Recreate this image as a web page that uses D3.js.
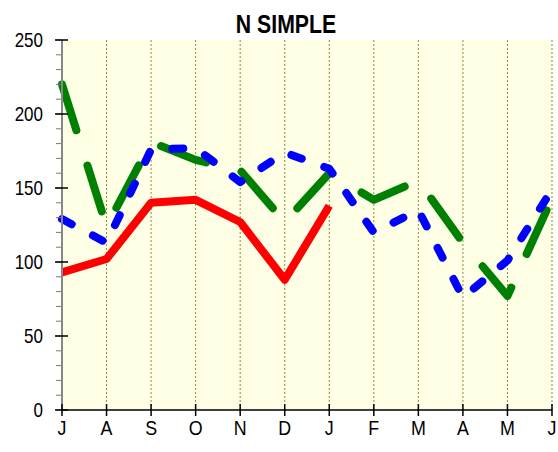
<!DOCTYPE html>
<html>
<head>
<meta charset="utf-8">
<script src="https://cdn.jsdelivr.net/npm/d3@7"></script>
<style>
  body { margin: 0; background: #fff; }
  text { font-family: "Liberation Sans", Arial, sans-serif; }
</style>
</head>
<body>
<div id="vis"></div>
<script>
// chart values
var months = ["J", "A", "S", "O", "N", "D", "J", "F", "M", "A", "M", "J"];
var redVals   = [93, 102, 140, 142, 127, 88, 138, null, null, null, null, null];
var greenVals = [220, 124, 181, 169, 162, 127, 160, 142, 155, 113, 77, 143];
var blueVals  = [129, 113, 176, 177, 154, 174, 163, 120, 135, 76, 101, 149];
var yTicks = [0, 50, 100, 150, 200, 250];

var width = 558, height = 452;
var margin = {top: 40, right: 6, bottom: 42, left: 62};
var squeeze = 0.85; // the chart font is a condensed one

var svg = d3.select("#vis").append("svg")
	.attr("width", width)
	.attr("height", height);

var x = d3.scaleLinear()
	.domain([0, months.length - 1])
	.range([margin.left, width - margin.right]);

var y = d3.scaleLinear()
	.domain([0, 250])
	.range([height - margin.bottom, margin.top]);

function narrow(px, py) {
	return "translate(" + px + "," + py + ") scale(" + squeeze + ",1)";
}

// plot background
svg.append("rect")
	.attr("x", x(0))
	.attr("y", y(250))
	.attr("width", x(months.length - 1) - x(0))
	.attr("height", y(0) - y(250))
	.attr("fill", "#ffffe6");

// vertical dotted grid
svg.append("g")
	.selectAll("line")
	.data(d3.range(1, months.length))
	.enter()
	.append("line")
	.attr("x1", function(d) { return x(d); })
	.attr("x2", function(d) { return x(d); })
	.attr("y1", y(250))
	.attr("y2", y(0))
	.attr("stroke", "#8c8c3c")
	.attr("stroke-width", 1)
	.attr("stroke-dasharray", "2,2");

// title
svg.append("text")
	.attr("transform", narrow(286, 33))
	.attr("text-anchor", "middle")
	.style("font-size", "25px")
	.style("font-weight", "bold")
	.text("N SIMPLE");

// lines
var line = d3.line()
	.defined(function(d) { return d != null; })
	.x(function(d, i) { return x(i); })
	.y(function(d) { return y(d); });

svg.append("path")
	.datum(redVals)
	.attr("d", line)
	.attr("fill", "none")
	.attr("stroke", "#ff0000")
	.attr("stroke-width", 8)
	.attr("stroke-linejoin", "round");

svg.append("path")
	.datum(greenVals)
	.attr("d", line)
	.attr("fill", "none")
	.attr("stroke", "#008000")
	.attr("stroke-width", 8)
	.attr("stroke-linecap", "round")
	.attr("stroke-linejoin", "round")
	.attr("stroke-dasharray", "48,37");

svg.append("path")
	.datum(blueVals)
	.attr("d", line)
	.attr("fill", "none")
	.attr("stroke", "#0000ff")
	.attr("stroke-width", 8)
	.attr("stroke-linecap", "round")
	.attr("stroke-linejoin", "round")
	.attr("stroke-dasharray", "11,24");

// y axis
var yAxis = svg.append("g");

yAxis.selectAll(".minor")
	.data(d3.range(0, 251, 10))
	.enter()
	.append("line")
	.attr("x1", x(0) - 6)
	.attr("x2", x(0))
	.attr("y1", function(d) { return y(d); })
	.attr("y2", function(d) { return y(d); })
	.attr("stroke", "#777");

yAxis.append("line")
	.attr("x1", x(0))
	.attr("x2", x(0))
	.attr("y1", y(250))
	.attr("y2", y(0))
	.attr("stroke", "#888")
	.attr("stroke-width", 2);

yAxis.selectAll(".major")
	.data(yTicks)
	.enter()
	.append("line")
	.attr("x1", x(0) - 7)
	.attr("x2", x(0) + 6)
	.attr("y1", function(d) { return y(d); })
	.attr("y2", function(d) { return y(d); })
	.attr("stroke", "#000")
	.attr("stroke-width", 1.5);

yAxis.selectAll("text")
	.data(yTicks)
	.enter()
	.append("text")
	.attr("transform", function(d) { return narrow(43, y(d)); })
	.attr("dy", "0.35em")
	.attr("text-anchor", "end")
	.style("font-size", "20px")
	.text(function(d) { return d; });

// x axis
var xAxis = svg.append("g");

xAxis.append("line")
	.attr("x1", x(0))
	.attr("x2", x(months.length - 1))
	.attr("y1", y(0))
	.attr("y2", y(0))
	.attr("stroke", "#000")
	.attr("stroke-width", 1.5);

xAxis.selectAll(".tick")
	.data(months)
	.enter()
	.append("line")
	.attr("x1", function(d, i) { return x(i); })
	.attr("x2", function(d, i) { return x(i); })
	.attr("y1", y(0) - 6)
	.attr("y2", y(0) + 6)
	.attr("stroke", "#000")
	.attr("stroke-width", 1.5);

xAxis.selectAll("text")
	.data(months)
	.enter()
	.append("text")
	.attr("transform", function(d, i) { return narrow(x(i), 435); })
	.attr("text-anchor", "middle")
	.style("font-size", "21px")
	.text(function(d) { return d; });
</script>
</body>
</html>
